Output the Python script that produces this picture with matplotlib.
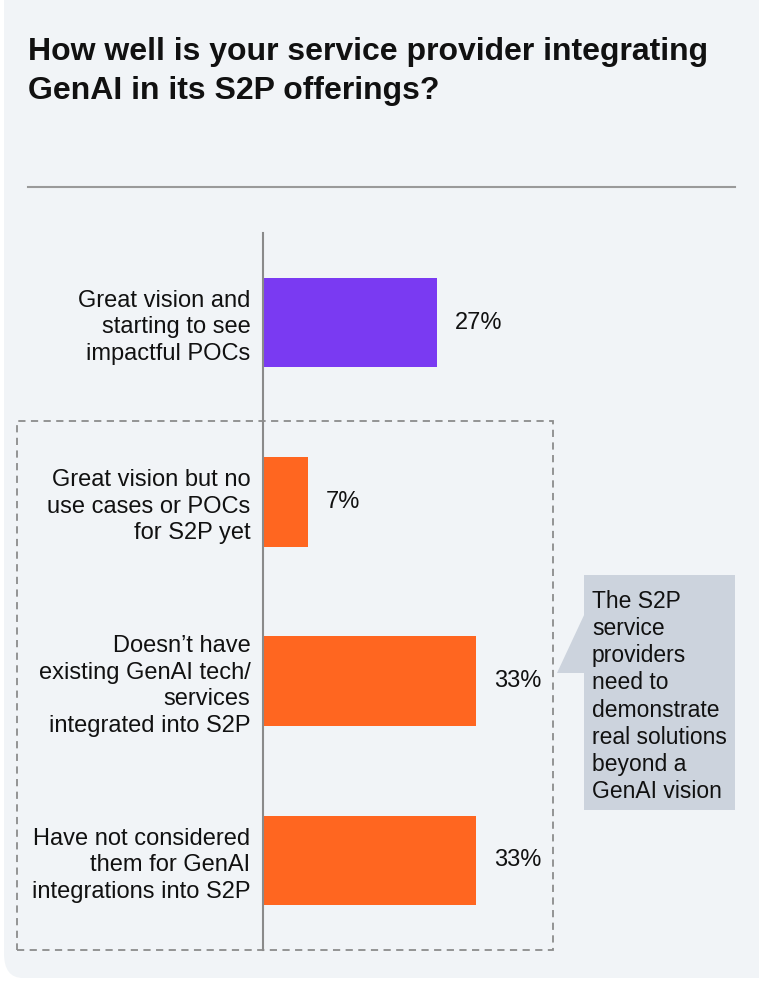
import matplotlib
matplotlib.use("Agg")
import matplotlib.pyplot as plt
from matplotlib.patches import FancyBboxPatch, Rectangle, Polygon

plt.rcParams["font.family"] = ["Liberation Sans", "DejaVu Sans"]

# ---- data ----
CATEGORIES = ["Great vision and\nstarting to see\nimpactful POCs",
              "Great vision but no\nuse cases or POCs\nfor S2P yet",
              "Doesn’t have\nexisting GenAI tech/\nservices\nintegrated into S2P",
              "Have not considered\nthem for GenAI\nintegrations into S2P"]
VALUES = [27, 7, 33, 33]
COLORS = ["#7A3AF2", "#FF6620", "#FF6620", "#FF6620"]
TITLE = "How well is your service provider integrating\nGenAI in its S2P offerings?"
NOTE = "The S2P\nservice\nproviders\nneed to\ndemonstrate\nreal solutions\nbeyond a\nGenAI vision"

W, H = 759, 983
fig = plt.figure(figsize=(W / 100, H / 100), dpi=100, facecolor="white")

def fx(x): return x / W
def fy(y): return 1 - y / H

# card background
card = FancyBboxPatch((fx(4), fy(978)), fx(800) - fx(4), fy(-30) - fy(978),
                      boxstyle="round,pad=0,rounding_size=0.025",
                      transform=fig.transFigure, facecolor="#F1F4F7", edgecolor="none", zorder=-5)
fig.patches.append(card)

fig.text(fx(28), fy(37), TITLE, fontsize=23, fontweight="bold", ha="left", va="top",
         linespacing=1.38, color="#111111")
fig.add_artist(plt.Line2D([fx(28), fx(735)], [fy(187), fy(187)], transform=fig.transFigure,
                          color="#9A9A9A", lw=1.5))

# dashed grouping box
fig.patches.append(Rectangle((fx(17), fy(950)), fx(553) - fx(17), fy(421) - fy(950),
                             transform=fig.transFigure, fill=False, edgecolor="#8C8C8C",
                             lw=1.3, ls=(0, (4, 3)), zorder=1))

ax = fig.add_axes([fx(263), fy(950), 322.5 / W, 717 / H])
ax.patch.set_alpha(0)
ax.barh(range(len(VALUES)), VALUES, height=0.5, color=COLORS, zorder=3)
ax.set_xlim(0, 50)
ax.set_ylim(3.5, -0.5)
for s in ["top", "right", "bottom"]:
    ax.spines[s].set_visible(False)
ax.spines["left"].set_color("#8A8A8A")
ax.spines["left"].set_linewidth(1.5)
ax.spines["left"].set_zorder(4)
ax.set_xticks([])
ax.set_yticks(range(len(CATEGORIES)))
ax.set_yticklabels(CATEGORIES, fontsize=17, color="#111111")
for lbl in ax.get_yticklabels():
    lbl.set_linespacing(1.27)
ax.tick_params(axis="y", length=0, pad=9)
for i, v in enumerate(VALUES):
    ax.annotate(f"{v}%", (v, i), xytext=(13, 0), textcoords="offset points",
                va="center", ha="left", fontsize=17, color="#111111")

# callout
fig.patches.append(Rectangle((fx(584), fy(810)), fx(735) - fx(584), fy(575) - fy(810),
                             transform=fig.transFigure, facecolor="#CCD3DD", edgecolor="none", zorder=2))
fig.patches.append(Polygon([(fx(585), fy(613)), (fx(557), fy(673)), (fx(585), fy(673))],
                           closed=True, transform=fig.transFigure, facecolor="#CCD3DD",
                           edgecolor="none", zorder=2))
fig.text(fx(592), fy(590), NOTE, fontsize=16.5, ha="left", va="top", linespacing=1.23,
         color="#111111", zorder=5)

fig.savefig("out.png", dpi=100, facecolor="white")
